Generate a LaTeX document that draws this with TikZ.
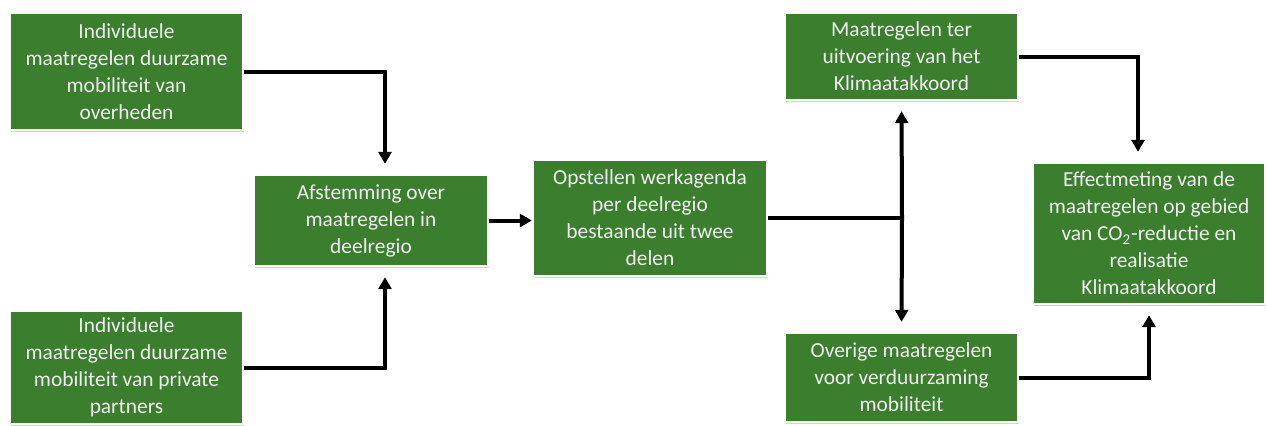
\documentclass[tikz,border=0pt]{standalone}
\usepackage{fontspec}
\setmainfont{Carlito}
\usetikzlibrary{arrows.meta, shadows}
\definecolor{boxgreen}{RGB}{58,126,46}
\tikzset{
  stepbox/.style={fill=boxgreen, draw=white, line width=1.2pt, align=center,
    text=white!94!black, font=\fontsize{10.7}{13.5}\selectfont, inner sep=2pt,
    drop shadow={opacity=0.35, shadow xshift=0.6pt, shadow yshift=-0.8pt}},
  flow/.style={line width=2pt, shorten >=5pt}
}

\begin{document}
\begin{tikzpicture}[x=0.5pt, y=-0.5pt, >={Triangle[width=6.5pt,length=6pt]}]
  \useasboundingbox (0,0) rectangle (1268,425);
  % Input boxes
  \node[stepbox, minimum width=116.5pt, minimum height=58.5pt] (gov) at (126.5,71.5)
    {Individuele\\maatregelen duurzame\\mobiliteit van\\overheden};
  \node[stepbox, minimum width=116.5pt, minimum height=56.5pt] (priv) at (126.5,367.5)
    {Individuele\\maatregelen duurzame\\mobiliteit van private\\partners};
  % Middle boxes
  \node[stepbox, minimum width=117pt, minimum height=45.5pt] (afst) at (371,220.5)
    {Afstemming over\\maatregelen in\\deelregio};
  \node[stepbox, minimum width=117pt, minimum height=58pt] (agenda) at (650,218)
    {Opstellen werkagenda\\per deelregio\\bestaande uit twee\\delen};
  % Two parts
  \node[stepbox, minimum width=116.5pt, minimum height=43.5pt] (klim) at (901.5,56.5)
    {Maatregelen ter\\uitvoering van het\\Klimaatakkoord};
  \node[stepbox, minimum width=116.5pt, minimum height=44.5pt] (overig) at (901.5,377.5)
    {Overige maatregelen\\voor verduurzaming\\mobiliteit};
  % Result
  \node[stepbox, minimum width=116pt, minimum height=70.5pt] (effect) at (1149,233.5)
    {Effectmeting van de\\maatregelen op gebied\\van CO\textsubscript{2}-reductie en\\realisatie\\Klimaatakkoord};
  % Connectors
  \coordinate (split) at (902,218);
  \draw[flow, ->] (gov.east) -| ([xshift=7pt]afst.north);
  \draw[flow, ->] (priv.east) -| ([xshift=7pt]afst.south);
  \draw[flow, shorten >=0pt, ->] (afst.east) -- (afst.east -| agenda.west);
  \draw[line width=2pt] (agenda.east |- split) -- (split);
  \draw[flow, ->] (split) -- (klim.south);
  \draw[flow, ->] (split) -- (overig.north);
  \draw[flow, ->] (klim.east) -| ([xshift=-5.5pt]effect.north);
  \draw[flow, ->] (overig.east) -| (effect.south);
\end{tikzpicture}
\end{document}
